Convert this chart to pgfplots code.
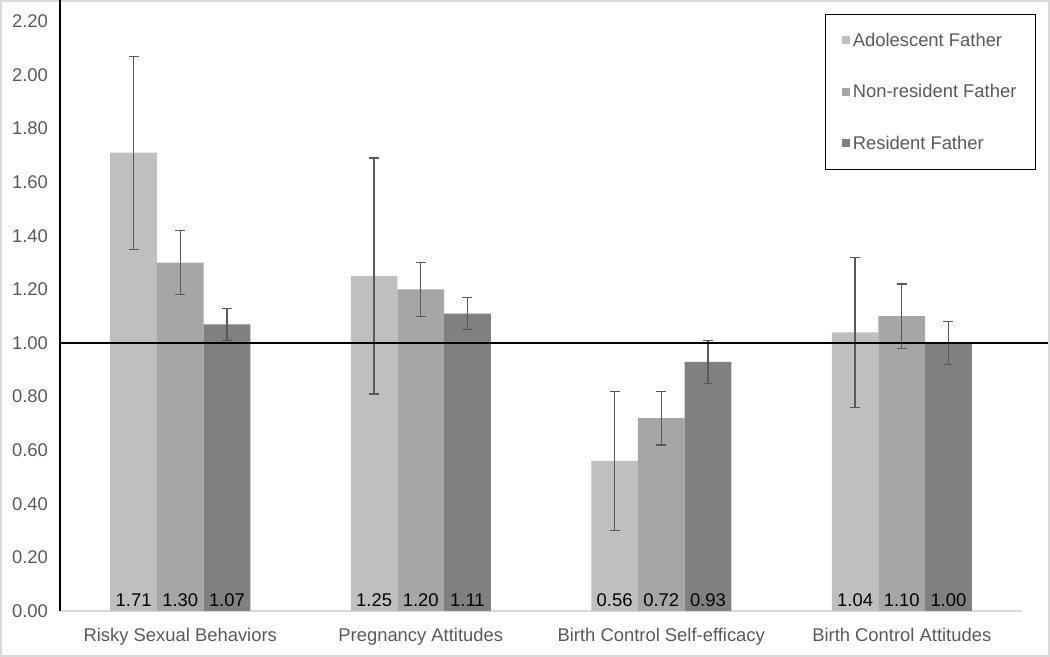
\documentclass[border=0pt]{standalone}
\usepackage{pgfplots}
\pgfplotsset{compat=1.18}
\usepackage{fontspec}
\setmainfont{Liberation Sans}
\definecolor{c1}{HTML}{BFBFBF}
\definecolor{c2}{HTML}{A6A6A6}
\definecolor{c3}{HTML}{808080}
\definecolor{txt}{HTML}{595959}
\definecolor{errc}{HTML}{595959}
\definecolor{framec}{HTML}{D9D9D9}
\newcommand{\chartfont}{\fontsize{13.8}{16}\selectfont}
\begin{document}
\begin{tikzpicture}[x=1pt,y=1pt]
\useasboundingbox (0,0) rectangle (787.5,492.75);
\draw[framec, line width=1.5pt] (0.75,0.75) rectangle (786.75,492);
\begin{axis}[
  at={(45pt,34.5pt)}, anchor=south west,
  scale only axis, width=721.5pt, height=458.25pt,
  xmin=-0.5, xmax=3.5, ymin=0, ymax=2.28,
  ybar=0pt, bar width=35pt,
  separate axis lines,
  axis x line*=bottom, axis y line*=left,
  x axis line style={-, draw=framec, line width=1pt},
  y axis line style={-, draw=black, line width=0.75pt},
  clip=false,
  xtick={0,1,2,3},
  xticklabels={Risky Sexual Behaviors, Pregnancy Attitudes, Birth Control Self-efficacy, Birth Control Attitudes},
  ytick={0,0.2,0.4,0.6,0.8,1.0,1.2,1.4,1.6,1.8,2.0,2.2},
  major tick length=0pt, tick style={draw=none},
  /pgf/number format/assume math mode=true,
  yticklabel={\pgfmathprintnumber[fixed,fixed zerofill,precision=2]{\tick}},
  tick label style={font=\chartfont, text=txt},
  yticklabel style={xshift=-5.5pt},
  xticklabel style={yshift=-9.5pt},
  nodes near coords={\pgfmathprintnumber[fixed,fixed zerofill,precision=2]{\pgfplotspointmeta}},
  visualization depends on={y \as \rawy},
  every node near coord/.append style={shift={(axis direction cs:0,-\rawy)}, anchor=south, font=\chartfont, text=black, inner sep=3pt},
  error bars/y dir=both, error bars/y explicit,
  error bars/error bar style={draw=errc, line width=1pt},
  error bars/error mark options={rotate=90, draw=errc, line width=1pt, mark size=3.75pt},
  legend cell align=left,
  legend image code/.code={\fill[#1, draw=none] (0pt,-2.5pt) rectangle (6pt,3.5pt);},
  legend style={at={(0.7952,0.977)}, anchor=north west, draw=black, line width=0.75pt,
    fill=white, font=\chartfont, text=txt, row sep=23pt,
    inner xsep=12.5pt, inner ysep=12pt,
    nodes={inner xsep=2pt}},
]
\addplot[fill=c1, draw=none] coordinates {
  (0,1.71) +- (0,0.36)
  (1,1.25) +- (0,0.44)
  (2,0.56) +- (0,0.26)
  (3,1.04) +- (0,0.28)
};
\addlegendentry{Adolescent Father}
\addplot[fill=c2, draw=none] coordinates {
  (0,1.30) +- (0,0.12)
  (1,1.20) +- (0,0.10)
  (2,0.72) +- (0,0.10)
  (3,1.10) +- (0,0.12)
};
\addlegendentry{Non-resident Father}
\addplot[fill=c3, draw=none] coordinates {
  (0,1.07) +- (0,0.06)
  (1,1.11) +- (0,0.06)
  (2,0.93) +- (0,0.08)
  (3,1.00) +- (0,0.08)
};
\addlegendentry{Resident Father}
\draw[black, line width=1pt] (axis cs:-0.5,1) -- (axis cs:3.608,1);
\end{axis}
\end{tikzpicture}
\end{document}
